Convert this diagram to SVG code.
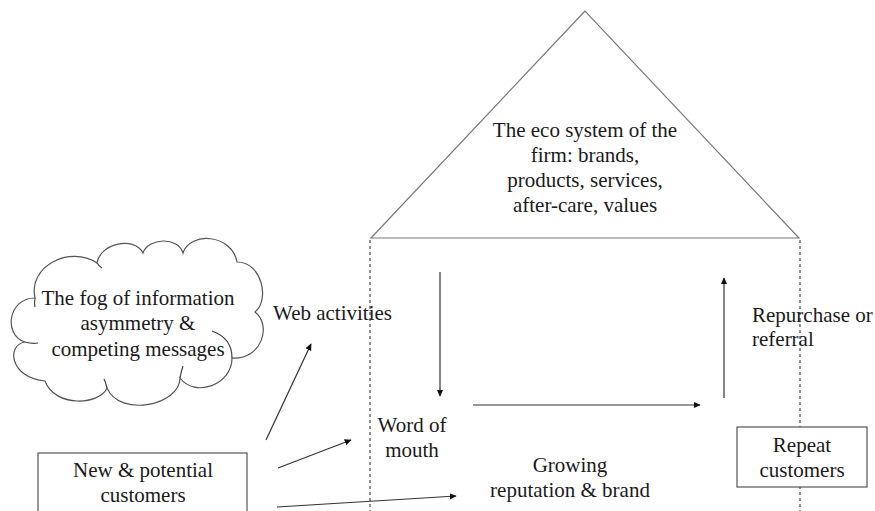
<svg xmlns="http://www.w3.org/2000/svg" width="875" height="511" viewBox="0 0 875 511">
  <style>
    text { font-family: "Liberation Serif", Tinos, "Times New Roman", Times, "Noto Serif", "DejaVu Serif", serif; font-size: 21px; fill: #1a1a1a; }
    .mid { text-anchor: middle; }
    .shape { fill: #ffffff; stroke: #555555; stroke-width: 1.2; }
    .tri { fill: none; stroke: #7a7a7a; stroke-width: 1.2; }
    .guide { fill: none; stroke: #222222; stroke-width: 1; stroke-dasharray: 3 3; }
    .arrow { fill: none; stroke: #333333; stroke-width: 1.2; marker-end: url(#head); }
    .curl { fill: none; stroke: #444444; stroke-width: 1.2; }
  </style>
  <defs>
    <marker id="head" viewBox="0 0 10 10" refX="9" refY="5" markerWidth="7" markerHeight="7" markerUnits="userSpaceOnUse" orient="auto">
      <path d="M0,0.5 L10,5 L0,9.5 Z" fill="#111111"/>
    </marker>
  </defs>
  <rect width="875" height="511" fill="#ffffff"/>

  <!-- vertical dashed walls of the house -->
  <g id="walls">
    <line class="guide" x1="370" y1="240" x2="370" y2="511"/>
    <line class="guide" x1="800" y1="240" x2="800" y2="511"/>
  </g>

  <!-- roof: the firm's eco system -->
  <g id="ecosystem">
    <polygon class="tri" points="585,11 371,238 799,238"/>
    <text class="mid" x="585" y="137">The eco system of the</text>
    <text class="mid" x="585" y="162">firm: brands,</text>
    <text class="mid" x="585" y="187">products, services,</text>
    <text class="mid" x="585" y="212">after-care, values</text>
  </g>

  <!-- cloud -->
  <g id="fog">
    <path class="shape" d="M35,298
      C28,266 70,245 97,263
      C100,243 135,236 143,253
      C148,238 178,236 183,253
      C190,231 232,234 237,262
      C262,262 270,300 255,312
      C272,325 262,360 232,358
      C232,385 195,398 180,378
      C180,405 120,418 107,388
      C100,405 55,408 45,381
      C10,378 6,345 25,342
      C3,335 8,298 35,298 Z"/>
    <path class="curl" d="M212,331 Q232,338 232,358"/>
    <path class="curl" d="M180,378 Q181,372 183,366"/>
    <path class="curl" d="M107,388 Q106,383 104,379"/>
    <path class="curl" d="M25,342 Q32,344 38,343"/>
    <path class="curl" d="M97,263 Q99,266 102,268"/>
    <path class="curl" d="M35,298 Q34,303 35,307"/>
    <text class="mid" x="138" y="305">The fog of information</text>
    <text class="mid" x="138" y="330">asymmetry &amp;</text>
    <text class="mid" x="138" y="356">competing messages</text>
  </g>

  <g id="new-customers">
    <rect class="shape" x="38" y="453" width="209" height="70"/>
    <text class="mid" x="143" y="477">New &amp; potential</text>
    <text class="mid" x="143" y="502">customers</text>
  </g>

  <g id="repeat-customers">
    <rect class="shape" x="737" y="427" width="130" height="60"/>
    <text class="mid" x="802" y="452">Repeat</text>
    <text class="mid" x="802" y="477">customers</text>
  </g>

  <g id="web-activities">
    <text x="273" y="320">Web activities</text>
  </g>

  <g id="word-of-mouth">
    <text class="mid" x="412" y="432">Word of</text>
    <text class="mid" x="412" y="457">mouth</text>
  </g>

  <g id="reputation">
    <text class="mid" x="570" y="472">Growing</text>
    <text class="mid" x="570" y="497">reputation &amp; brand</text>
  </g>

  <g id="repurchase">
    <text x="752" y="322">Repurchase or</text>
    <text x="752" y="346">referral</text>
  </g>

  <!-- connectors -->
  <g id="connectors">
    <line class="arrow" x1="266" y1="440" x2="311" y2="344"/>
    <line class="arrow" x1="278" y1="468" x2="351" y2="440"/>
    <line class="arrow" x1="277" y1="507" x2="456" y2="496"/>
    <line class="arrow" x1="440" y1="272" x2="440" y2="396"/>
    <line class="arrow" x1="473" y1="405" x2="700" y2="405"/>
    <line class="arrow" x1="724" y1="398" x2="724" y2="278"/>
  </g>
</svg>
